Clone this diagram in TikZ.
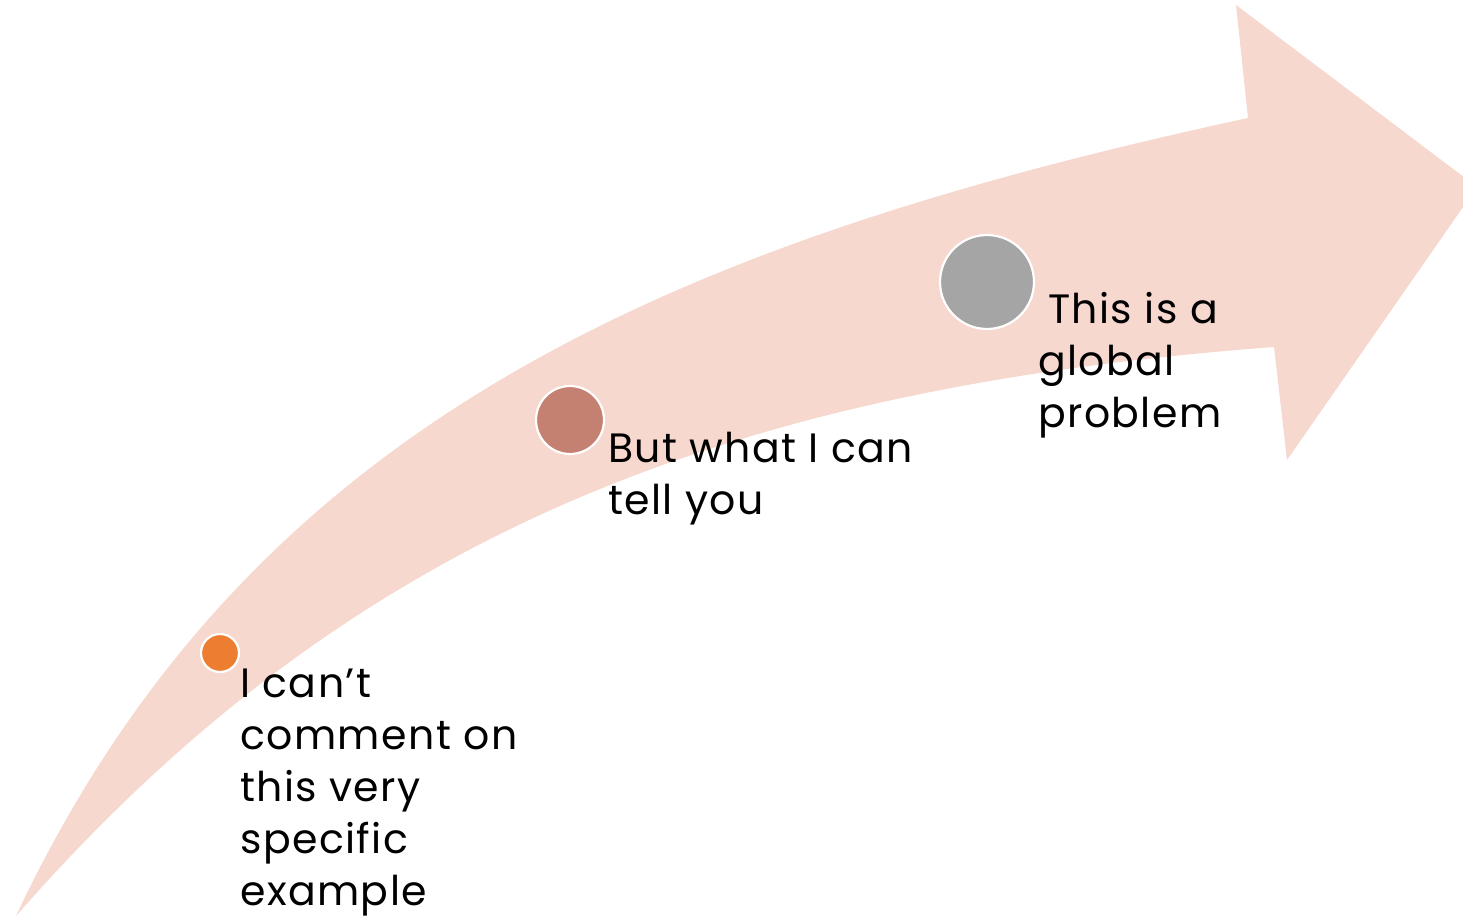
\documentclass[tikz,border=0pt]{standalone}
\usepackage{fontspec}
\setmainfont{Poppins}
\newfontfamily\labelfont{Poppins}[LetterSpace=3.5]
\definecolor{arrowpeach}{HTML}{F7D8CE}
\definecolor{dotorange}{HTML}{ED7D31}
\definecolor{dotbrown}{HTML}{C48070}
\definecolor{dotgray}{HTML}{A5A5A5}
\tikzset{
  bigarrow/.style={fill=arrowpeach},
  dot/.style={circle, draw=white, line width=2.2pt, inner sep=0pt},
  label/.style={anchor=base west, align=left, inner sep=0pt, font=\labelfont\fontsize{41}{52}\selectfont, text=black}
}
\begin{document}
\begin{tikzpicture}[x=1pt,y=-1pt]
\useasboundingbox (0,0) rectangle (1463,917);
\begin{scope}
\clip (0,0) rectangle (1463,917);
\fill[bigarrow] (16,916) .. controls (247,425) and (665,244) .. (1248,118)
  -- (1236,5) -- (1477,187) -- (1287,460) -- (1274,347)
  .. controls (718,389) and (346,539) .. (16,916) -- cycle;
\end{scope}
\node[dot, fill=dotorange, minimum size=38pt] (d1) at (220,653) {};
\node[dot, fill=dotbrown, minimum size=68pt] (d2) at (570,420) {};
\node[dot, fill=dotgray, minimum size=94pt] (d3) at (987,282) {};
\node[label] (t1) at (240,905) {I can’t\\comment on\\this very\\specific\\example};
\node[label] (t2) at (608,514) {But what I can\\tell you};
\node[label] (t3) at (1038,427) {\hspace*{10pt}This is a\\global\\problem};
\end{tikzpicture}
\end{document}
